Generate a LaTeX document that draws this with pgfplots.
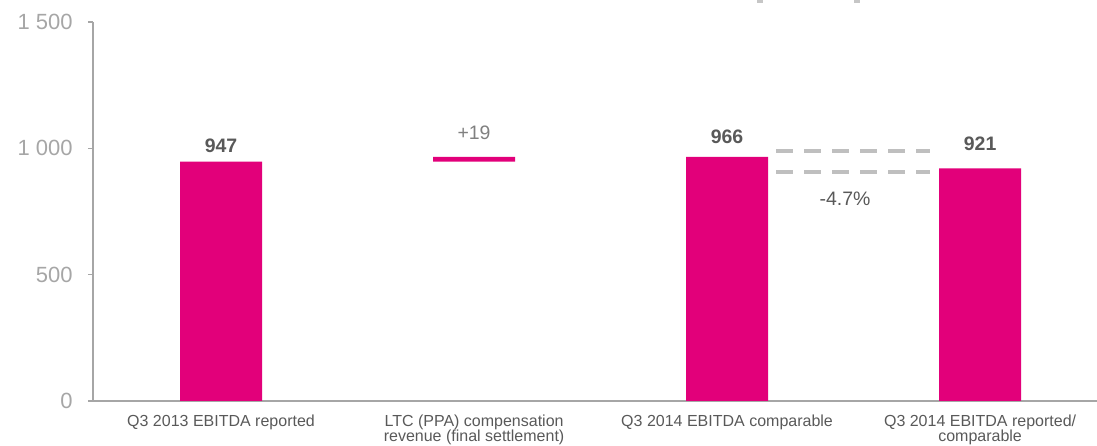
\documentclass[border=0pt]{standalone}
\usepackage{pgfplots}
\pgfplotsset{compat=1.18}
\usepackage{fontspec}
\setmainfont{Liberation Sans}
\definecolor{mag}{HTML}{E2007A}
\definecolor{tickgray}{HTML}{A6A6A6}
\definecolor{axgray}{HTML}{A6A6A6}
\definecolor{txtgray}{HTML}{595959}
\definecolor{lightgray2}{HTML}{808080}
\definecolor{dashgray}{HTML}{BFBFBF}
\begin{document}
\begin{tikzpicture}
\useasboundingbox (-69.75pt,-33.75pt) rectangle (753pt,300.75pt);
\begin{axis}[
  at={(0pt,0pt)}, anchor=south west,
  scale only axis, width=753pt, height=284.25pt,
  xmin=-0.506, xmax=3.462, ymin=0, ymax=1500,
  axis x line=bottom, axis y line=left,
  axis line style={draw=axgray, line width=1.1pt, -},
  ybar stacked, bar width=61.5pt,
  xtick={0,1,2,3},
  xticklabels={Q3 2013 EBITDA reported, LTC (PPA) compensation\\revenue (final settlement), Q3 2014 EBITDA comparable, Q3 2014 EBITDA reported/\\comparable},
  major x tick style={draw=none},
  ytick={0,500,1000,1500},
  yticklabels={0,500,1~000,1~500},
  tick align=outside, major tick length=3.75pt,
  major y tick style={draw=axgray, line width=1.1pt},
  yticklabel style={font=\fontsize{16.5}{18}\selectfont, text=tickgray, anchor=east, xshift=-8pt},
  xticklabel style={font=\fontsize{12}{11.3}\selectfont, text=txtgray, align=center, anchor=north, yshift=-3.3pt},
  clip=false,
]
\addplot[draw=none, fill=none, forget plot] coordinates {(0,0) (1,947) (2,0) (3,0)};
\addplot[fill=mag, draw=none] coordinates {(0,947) (1,19) (2,966) (3,921)};
\node[anchor=base, font=\fontsize{14.6}{16}\selectfont\bfseries, text=txtgray] at (axis cs:0,985) {947};
\node[anchor=base, font=\fontsize{14.6}{16}\selectfont, text=lightgray2] at (axis cs:1,1036) {+19};
\node[anchor=base, font=\fontsize{14.6}{16}\selectfont\bfseries, text=txtgray] at (axis cs:2,1021) {966};
\node[anchor=base, font=\fontsize{14.6}{16}\selectfont\bfseries, text=txtgray] at (axis cs:3,993) {921};
\node[anchor=base, font=\fontsize{14.6}{16}\selectfont, text=txtgray] at (axis cs:2.466,772) {-4.7\%};
\draw[dashgray, line width=3.5pt, dash pattern=on 12.5pt off 8.5pt] (axis cs:2.194,989) -- (axis cs:2.802,989);
\draw[dashgray, line width=3.5pt, dash pattern=on 12.5pt off 8.5pt] (axis cs:2.194,906) -- (axis cs:2.802,906);
\end{axis}
\fill[gray!45] (498pt,298.5pt) rectangle (502.5pt,300.75pt);
\fill[gray!45] (570.75pt,298.5pt) rectangle (575.25pt,300.75pt);
\end{tikzpicture}
\end{document}
